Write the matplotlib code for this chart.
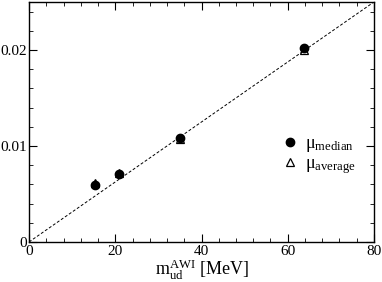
import numpy as np
import matplotlib
matplotlib.use("Agg")
import matplotlib.pyplot as plt
from matplotlib.ticker import MultipleLocator

plt.rcParams['font.family'] = ['Liberation Serif', 'DejaVu Serif']
plt.rcParams['mathtext.fontset'] = 'custom'
plt.rcParams['mathtext.rm'] = 'Liberation Serif'
plt.rcParams['mathtext.it'] = 'Liberation Serif:italic'

# data
m_ud = [15.2, 20.8, 35.0, 63.8]
mu_median = [0.0059, 0.0071, 0.0108, 0.0202]
mu_average = [0.0061, 0.0072, 0.0107, 0.0200]
line_x = [0, 80]
line_y = [0, 0.025]

fig = plt.figure(figsize=(3.82, 2.82), dpi=100)
ax = fig.add_axes([0.076, 0.142, 0.903, 0.851])

ax.plot(line_x, line_y, color='black', lw=0.7, ls=(0, (3, 2)))
ax.plot(m_ud, mu_median, 'o', color='black', ms=6, label=r'$\mathrm{\mu}_{\mathrm{median}}$')
ax.plot(m_ud, mu_average, '^', mfc='none', mec='black', mew=0.9, ms=6,
        label=r'$\mathrm{\mu}_{\mathrm{average}}$')

ax.set_xlim(0, 80)
ax.set_ylim(0, 0.025)
ax.xaxis.set_major_locator(MultipleLocator(20))
ax.xaxis.set_minor_locator(MultipleLocator(4))
ax.yaxis.set_major_locator(MultipleLocator(0.01))
ax.yaxis.set_minor_locator(MultipleLocator(0.002))
ax.set_yticks([0, 0.01, 0.02])
ax.set_yticklabels(['0', '0.01', '0.02'])
ax.tick_params(which='both', direction='in', top=True, right=True, labelsize=11)
ax.tick_params(axis='y', pad=1.5)
ax.tick_params(axis='x', pad=2)
ax.tick_params(which='major', length=6)
ax.tick_params(which='minor', length=3)
for s in ax.spines.values():
    s.set_linewidth(1.0)

ax.set_xlabel(r'$\mathrm{m}_{\mathrm{ud}}^{\mathrm{AWI}}$ [MeV]', fontsize=13, labelpad=0)

ax.legend(loc='center left', bbox_to_anchor=(0.70, 0.36), frameon=False, fontsize=13,
          handletextpad=0.2, handlelength=1.2, labelspacing=0.05, borderpad=0)

fig.savefig('out.png', dpi=100)
